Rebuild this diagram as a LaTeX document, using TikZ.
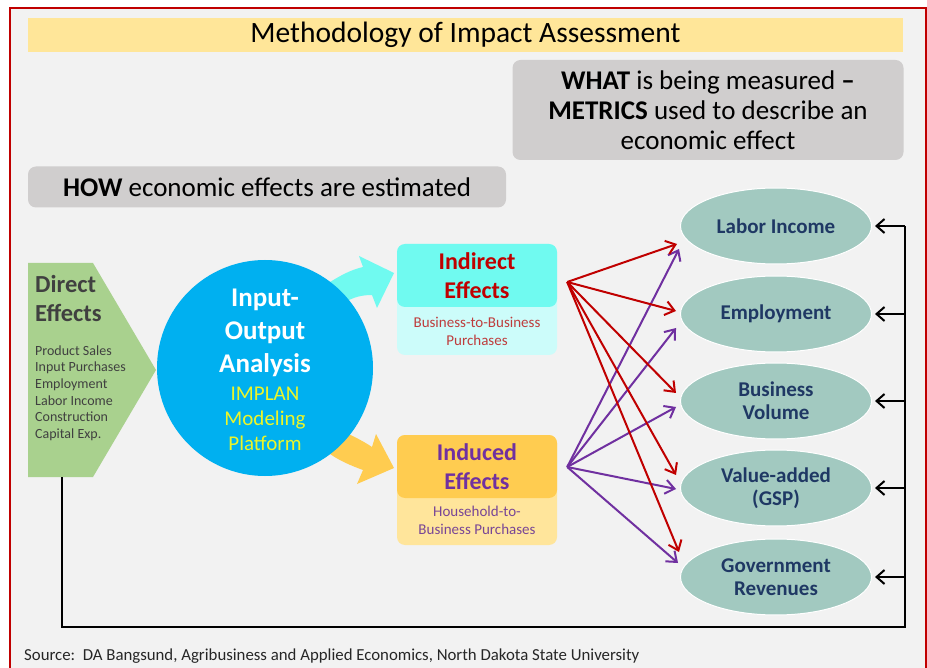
\documentclass[tikz,border=0pt]{standalone}
\usepackage{fontspec}
\setmainfont{Carlito}
\usetikzlibrary{arrows.meta,shapes.geometric,calc}

\definecolor{framered}{RGB}{192,0,0}
\definecolor{paper}{RGB}{242,242,242}
\definecolor{titleyellow}{RGB}{255,230,153}
\definecolor{boxgray}{RGB}{208,206,206}
\definecolor{directgreen}{RGB}{169,209,142}
\definecolor{textgray}{RGB}{64,64,64}
\definecolor{ioblue}{RGB}{0,176,240}
\definecolor{implanyellow}{RGB}{236,245,40}
\definecolor{cyanhead}{RGB}{112,250,240}
\definecolor{cyanbody}{RGB}{204,252,250}
\definecolor{amberhead}{RGB}{255,204,80}
\definecolor{amberbody}{RGB}{255,229,155}
\definecolor{metricteal}{RGB}{162,201,192}
\definecolor{metricnavy}{RGB}{31,56,100}
\definecolor{indred}{RGB}{192,0,0}
\definecolor{indsubred}{RGB}{190,60,60}
\definecolor{indpurple}{RGB}{112,48,160}
\definecolor{indsubpurple}{RGB}{120,70,150}
\definecolor{srcgray}{RGB}{38,38,38}

\newcommand{\fsz}[2]{\fontsize{#1}{#2}\selectfont}

\tikzset{
	header/.style={fill=titleyellow, minimum width=875, minimum height=34, inner sep=0, font=\fsz{29.5}{34}},
	greybox/.style={fill=boxgray, rounded corners=8, inner sep=0, align=center, font=\fsz{27}{30}, text=black},
	effbody/.style={rounded corners=8, minimum width=160, inner sep=0},
	effhead/.style={rounded corners=8, minimum width=160, minimum height=63, inner sep=0, align=center, font=\bfseries\fsz{24}{29}},
	effsub/.style={inner sep=0, align=center, font=\fsz{15}{18}},
	metric/.style={ellipse, fill=metricteal, draw=white, line width=1, minimum width=191, minimum height=76, inner sep=0, align=center, text=metricnavy, font=\bfseries\fsz{21}{23}},
	redarrow/.style={draw=indred, line width=2, -{Straight Barb[length=9,width=14]}},
	purplearrow/.style={draw=indpurple, line width=2, -{Straight Barb[length=9,width=14]}},
	loopline/.style={draw=black, line width=2},
	looparrow/.style={draw=black, line width=2, -{Straight Barb[length=8,width=14]}}
}

\begin{document}
\begin{tikzpicture}[x=1pt, y=-1pt]
			%%%%% START %%%%%
			
			\useasboundingbox (0,0) rectangle (927,668);
			\clip (0,0) rectangle (927,668);
			\fill[white] (0,0) rectangle (927,668);
			\fill[paper] (10,8) rectangle (926,700);
			\draw[framered, line width=2] (10,8) rectangle (926,700);
			
			\node[header] (title) at (465.5,35) {Methodology of Impact Assessment};
			
			\node[greybox, minimum width=391, minimum height=100] (what) at (708,110)
				{\textbf{WHAT} is being measured \textbf{–}\\\textbf{METRICS} used to describe an\\economic effect};
			\node[greybox, minimum width=478, minimum height=41] (how) at (267,187)
				{\textbf{HOW} economic effects are estimated};
			
			% direct effects arrow
			\fill[directgreen] (28,263) -- (93,263) -- (156,370) -- (93,477) -- (28,477) -- cycle;
			\coordinate (dirfoot) at (62,477);
			\node[anchor=west, inner sep=0, align=left, text=textgray, font=\bfseries\fsz{24.5}{29}] (direct) at (35,298) {Direct\\Effects};
			\node[anchor=west, inner sep=0, align=left, text=textgray, font=\fsz{14}{16.6}] (dirlist) at (35,393)
				{Product Sales\\Input Purchases\\Employment\\Labor Income\\Construction\\Capital Exp.};
			
			% curved block arrows
			\fill[cyanhead] (330,282) .. controls (340,276) and (350,270) .. (363,267) -- (359,256) -- (394,273) -- (377,308) -- (372,295) .. controls (362,295) and (353,297) .. (344,303) -- cycle;
			\fill[amberhead] (344,432) .. controls (353,436) and (363,441) .. (372,447) -- (376,434) -- (394,468) -- (357,484) -- (363,470) .. controls (352,466) and (340,461) .. (330,454) -- cycle;
			
			\node[circle, fill=ioblue, minimum size=216, inner sep=0] (io) at (265,368) {};
			\node[inner sep=0, align=center, text=white, font=\bfseries\fsz{27}{33}] (iotext) at (265,333) {Input-\\Output\\Analysis};
			\node[inner sep=0, align=center, text=implanyellow, font=\fsz{21}{25}] (implan) at (265,419) {IMPLAN\\Modeling\\Platform};
			
			% indirect and induced
			\node[effbody, fill=cyanbody, minimum height=111] (indbody) at (477,299.5) {};
			\node[effhead, fill=cyanhead, text=indred] (indhead) at (477,275.5) {Indirect\\Effects};
			\node[effsub, text=indsubred] (indsub) at (477,331) {Business-to-Business\\Purchases};
			
			\node[effbody, fill=amberbody, minimum height=110] (inubody) at (477,490) {};
			\node[effhead, fill=amberhead, text=indpurple] (inuhead) at (477,466.5) {Induced\\Effects};
			\node[effsub, text=indsubpurple] (inusub) at (477,520) {Household-to-\\Business Purchases};
			
			% metrics
			\node[metric] (lab) at (776,226) {Labor Income};
			\node[metric] (emp) at (776,314) {Employment};
			\node[metric] (bus) at (776,401) {Business\\Volume};
			\node[metric] (val) at (776,488) {Value-added\\(GSP)};
			\node[metric] (gov) at (776,577) {Government\\Revenues};
			
			\coordinate (indsrc) at ([shift={(10,6.5)}]indhead.east);
			\coordinate (inusrc) at ([shift={(10,0.5)}]inuhead.east);
			\foreach \m/\dx/\dy in {lab/-1/23, emp/-4/14, bus/-4/6, val/-4/1, gov/-2/-14}
				\draw[purplearrow] (inusrc) -- ([shift={(\dx,\dy)}]\m.west);
			\foreach \m/\dx/\dy in {lab/-3/18, emp/-4/-3, bus/-4/-8, val/-4/-13, gov/-1/-25}
				\draw[redarrow] (indsrc) -- ([shift={(\dx,\dy)}]\m.west);
			
			% feedback loop
			\coordinate (fbright) at (905,627);
			\draw[loopline] (dirfoot) |- (fbright) -- (fbright |- lab.east);
			\foreach \m in {lab,emp,bus,val,gov}
				\draw[looparrow] (fbright |- \m.east) -- ([xshift=3]\m.east);
			
			\node[anchor=west, inner sep=0, text=srcgray, font=\fsz{16.8}{19}] (source) at (24,656)
				{Source:\ \ DA Bangsund, Agribusiness and Applied Economics, North Dakota State University};
			
			%%%%% END %%%%%
		\end{tikzpicture}
\end{document}
